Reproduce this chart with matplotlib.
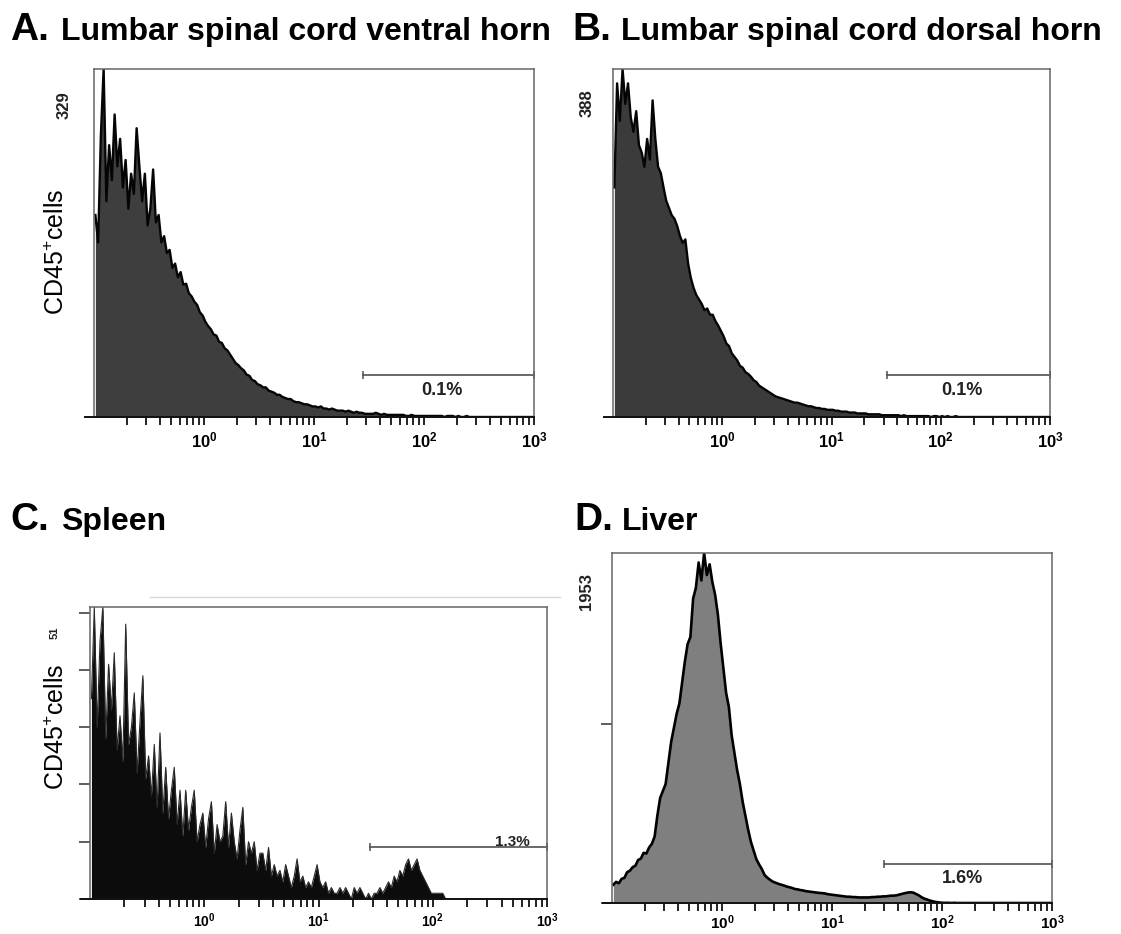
import numpy as np
import matplotlib.pyplot as plt
from matplotlib import ticker
from matplotlib.lines import Line2D

plt.rcParams['font.family'] = ['Liberation Sans', 'DejaVu Sans']
plt.rcParams['mathtext.fontset'] = 'custom'
plt.rcParams['mathtext.rm'] = 'Liberation Sans'
plt.rcParams['mathtext.bf'] = 'Liberation Sans:bold'

W, H = 1121, 934

# CD45 intensity histograms, 160 channels over 4 log decades (10^-1 .. 10^3)
counts_ventral = [
    191, 165, 266, 329, 204, 257, 224, 286, 237, 263,
    217, 243, 197, 230, 211, 273, 237, 204, 230, 181,
    197, 234, 184, 191, 165, 171, 155, 158, 141, 145,
    132, 137, 125, 126, 117, 114, 109, 106, 99, 96,
    90, 86, 83, 78, 77, 71, 70, 65, 63, 59,
    55, 51, 49, 46, 44, 40, 39, 35, 34, 31,
    30, 28, 28, 25, 24, 23, 21, 21, 19, 18,
    17, 17, 15, 14, 14, 13, 12, 12, 11, 10,
    10, 9, 10, 8, 8, 7, 8, 7, 6, 6,
    6, 5, 6, 5, 4, 5, 4, 4, 3, 3,
    3, 3, 4, 3, 2, 3, 2, 2, 2, 2,
    2, 2, 2, 1, 1, 2, 1, 1, 1, 1,
    1, 1, 1, 1, 1, 1, 1, 0, 1, 1,
    1, 0, 1, 0, 0, 1, 0, 0, 0, 0,
    0, 0, 0, 0, 0, 0, 0, 0, 0, 0,
    0, 0, 0, 0, 0, 0, 0, 0, 0, 0,
]
counts_dorsal = [
    256, 372, 330, 388, 349, 372, 334, 318, 341, 303,
    295, 279, 310, 287, 353, 310, 279, 272, 256, 241,
    233, 225, 221, 213, 202, 194, 198, 171, 155, 144,
    136, 131, 126, 119, 121, 114, 114, 107, 102, 96,
    90, 82, 79, 71, 67, 63, 57, 55, 50, 48,
    45, 41, 39, 35, 33, 31, 29, 27, 25, 23,
    22, 21, 20, 19, 18, 17, 16, 16, 15, 14,
    13, 12, 12, 11, 10, 10, 9, 9, 8, 8,
    8, 7, 7, 6, 6, 6, 5, 5, 5, 4,
    4, 4, 4, 3, 3, 3, 3, 3, 2, 2,
    2, 2, 2, 2, 2, 1, 2, 1, 1, 1,
    1, 1, 1, 1, 1, 1, 0, 1, 1, 0,
    1, 0, 1, 0, 0, 1, 0, 0, 0, 0,
    0, 0, 0, 0, 0, 0, 0, 0, 0, 0,
    0, 0, 0, 0, 0, 0, 0, 0, 0, 0,
    0, 0, 0, 0, 0, 0, 0, 0, 0, 0,
]
counts_spleen = [
    35, 51, 30, 45, 51, 28, 41, 33, 43, 26,
    32, 24, 48, 27, 30, 36, 22, 31, 39, 21,
    25, 18, 27, 16, 29, 15, 23, 14, 19, 23,
    13, 19, 11, 19, 12, 16, 19, 10, 13, 15,
    9, 14, 17, 8, 13, 10, 11, 17, 9, 15,
    10, 7, 12, 16, 6, 10, 8, 10, 5, 8,
    8, 5, 9, 4, 6, 4, 5, 3, 6, 4,
    2, 4, 7, 3, 4, 2, 3, 2, 4, 6,
    3, 2, 3, 1, 2, 1, 1, 2, 1, 2,
    1, 0, 2, 1, 2, 1, 0, 1, 0, 1,
    1, 2, 1, 2, 3, 2, 4, 3, 5, 4,
    6, 7, 5, 6, 7, 5, 4, 3, 2, 1,
    1, 1, 1, 1, 0, 0, 0, 0, 0, 0,
    0, 0, 0, 0, 0, 0, 0, 0, 0, 0,
    0, 0, 0, 0, 0, 0, 0, 0, 0, 0,
    0, 0, 0, 0, 0, 0, 0, 0, 0, 0,
]
counts_liver = [
    102, 118, 110, 135, 140, 172, 180, 200, 208, 240,
    248, 280, 276, 310, 330, 371, 488, 586, 625, 664,
    781, 898, 977, 1055, 1113, 1230, 1348, 1445, 1484, 1699,
    1758, 1900, 1800, 1953, 1830, 1890, 1790, 1720, 1610, 1450,
    1309, 1172, 1094, 937, 840, 742, 664, 566, 488, 410,
    342, 293, 244, 215, 189, 156, 141, 129, 119, 113,
    107, 102, 98, 92, 88, 84, 78, 76, 72, 70,
    66, 64, 62, 60, 58, 56, 55, 53, 49, 47,
    45, 43, 41, 39, 37, 35, 35, 33, 33, 31,
    31, 31, 31, 31, 33, 33, 35, 35, 37, 37,
    39, 41, 41, 43, 47, 51, 55, 58, 60, 58,
    51, 43, 33, 25, 20, 14, 10, 6, 4, 2,
    1, 1, 1, 0, 1, 0, 0, 0, 0, 0,
    0, 0, 0, 0, 0, 0, 0, 0, 0, 0,
    0, 0, 0, 0, 0, 0, 0, 0, 0, 0,
    0, 0, 0, 0, 0, 0, 0, 0, 0, 0,
]

y_max = [329, 388, 51, 1953]
gate_start = [28, 32, 28, 30]
gate_pct = ['0.1%', '0.1%', '1.3%', '1.6%']
letters = ['A.', 'B.', 'C.', 'D.']
titles = ['Lumbar spinal cord ventral horn', 'Lumbar spinal cord dorsal horn', 'Spleen', 'Liver']
decade_labels = [r'$\mathbf{10^{0}}$', r'$\mathbf{10^{1}}$', r'$\mathbf{10^{2}}$', r'$\mathbf{10^{3}}$']


def px_box(left, top, right, bottom):
    return [left / W, 1 - bottom / H, (right - left) / W, (bottom - top) / H]


def channel_centres(n):
    # channels spread evenly over the 4 log decades of the cytometer
    return 10 ** (-1 + 4 * (np.arange(n) + 0.5) / n)


def draw_hist(ax, counts, ymax, fill_color, line_color, lw, label_size, label_pad=4):
    x = channel_centres(len(counts))
    y = np.minimum(np.array(counts, dtype=float), ymax)
    ax.fill_between(x, 0, y, color=fill_color, lw=0)
    ax.plot(x, y, color=line_color, lw=lw)
    ax.set_xscale('log')
    ax.set_xlim(0.1, 1000)
    ax.set_ylim(0, ymax)

    ax.xaxis.set_major_locator(ticker.FixedLocator([1, 10, 100, 1000]))
    ax.xaxis.set_major_formatter(ticker.FixedFormatter(decade_labels))
    ax.xaxis.set_minor_locator(ticker.LogLocator(base=10, subs=np.arange(2, 10), numticks=20))
    ax.xaxis.set_minor_formatter(ticker.NullFormatter())
    ax.tick_params(axis='x', which='both', direction='out', length=6, width=1.3, color='#111')
    ax.tick_params(axis='x', which='major', labelsize=label_size, pad=label_pad)
    ax.set_yticks([])

    for side in ['top', 'left', 'right']:
        ax.spines[side].set_color('#666666')
        ax.spines[side].set_linewidth(1.1)
    ax.spines['bottom'].set_color('#111')
    ax.spines['bottom'].set_linewidth(1.4)
    # baseline runs a little past the left edge
    ax.plot([-0.02, 0], [0, 0], transform=ax.transAxes, color='#111', lw=1.4, clip_on=False)


def draw_gate(ax, lo, ymax, frac, text, text_x, text_frac, size):
    gy = frac * ymax
    ax.plot([lo, 1000], [gy, gy], color='#505050', lw=1.2, clip_on=False)
    ax.plot([lo, 1000], [gy, gy], ls='none', marker='|', ms=6, mew=1.1, color='#505050', clip_on=False)
    ax.text(text_x, text_frac * ymax, text, ha='center', va='center', fontsize=size,
            fontweight='bold', color='#222')


fig = plt.figure(figsize=(W / 100, H / 100), dpi=100)

ax_a = fig.add_axes(px_box(94, 69, 534, 417))
ax_b = fig.add_axes(px_box(613, 69, 1050, 417))
ax_c = fig.add_axes(px_box(90, 607, 547, 899))
ax_d = fig.add_axes(px_box(612, 553, 1052, 903))

draw_hist(ax_a, counts_ventral, y_max[0], '#3e3e3e', '#050505', 1.7, 12)
draw_hist(ax_b, counts_dorsal, y_max[1], '#3b3b3b', '#050505', 1.7, 12)
draw_hist(ax_c, counts_spleen, y_max[2], '#0c0c0c', '#2a2a2a', 0.8, 10, 3)
draw_hist(ax_d, counts_liver, y_max[3], '#7f7f7f', '#000000', 1.9, 11, 1.5)

draw_gate(ax_a, gate_start[0], y_max[0], 0.12, gate_pct[0], 145, 0.075, 13)
draw_gate(ax_b, gate_start[1], y_max[1], 0.12, gate_pct[1], 155, 0.075, 13)
draw_gate(ax_c, gate_start[2], y_max[2], 0.177, gate_pct[2], 500, 0.195, 11)
draw_gate(ax_d, gate_start[3], y_max[3], 0.111, gate_pct[3], 155, 0.071, 13)

# left ticks on the spleen and liver panels
ax_c.set_yticks([0, 10, 20, 30, 40, 50])
ax_c.set_yticklabels([])
ax_c.tick_params(axis='y', direction='out', length=8, width=1.1, color='#333')
ax_d.set_yticks([0, 1000])
ax_d.set_yticklabels([])
ax_d.tick_params(axis='y', direction='out', length=8, width=1.1, color='#333')

# panel titles
title_pos = [(10, 61, 40), (572, 621, 40), (10, 61, 530), (574, 622, 530)]
for letter, title, (xl, xt, yb) in zip(letters, titles, title_pos):
    fig.text(xl / W, 1 - yb / H, letter, fontsize=28, fontweight='bold', va='baseline')
    fig.text(xt / W, 1 - yb / H, title, fontsize=23, fontweight='bold', va='baseline')

# y axis labels and top-of-scale counts
ylab = 'CD45$^{+}$cells'
fig.text(57 / W, 1 - 252 / H, ylab, rotation=90, fontsize=18, ha='center', va='center')
fig.text(57 / W, 1 - 727 / H, ylab, rotation=90, fontsize=18, ha='center', va='center')
max_pos = [(64, 105, 12), (587, 103, 12), (55, 633, 8), (587, 592, 12)]
for ymax, (mx, my, ms) in zip(y_max, max_pos):
    fig.text(mx / W, 1 - my / H, str(ymax), rotation=90, fontsize=ms, fontweight='bold',
             ha='center', va='center', color='#222')

# faint scan line above the spleen panel
fig.add_artist(Line2D([150 / W, 560 / W], [1 - 597 / H, 1 - 597 / H], color='#d8d8d8', lw=1))

fig.savefig('out.png', dpi=100)
